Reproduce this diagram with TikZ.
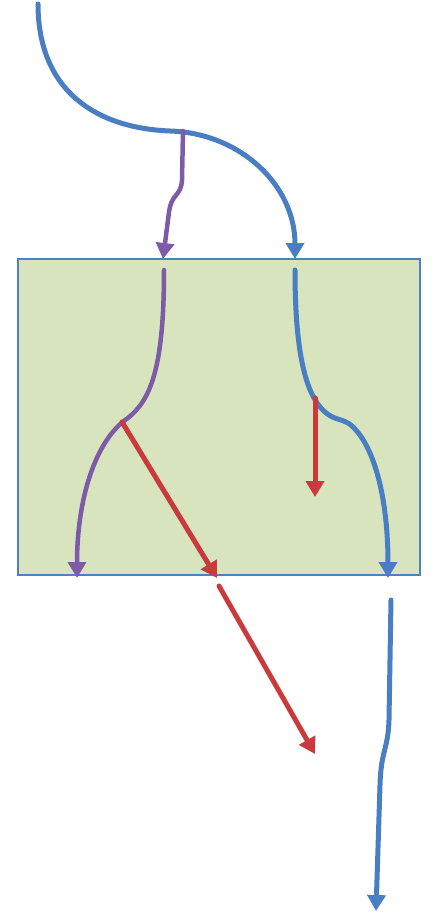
\documentclass[tikz,border=0pt]{standalone}
\usetikzlibrary{arrows.meta}
\definecolor{flowblue}{HTML}{4A7EC2}
\definecolor{flowpurple}{HTML}{7E5BA8}
\definecolor{flowred}{HTML}{C83A3E}
\definecolor{boxfill}{HTML}{D7E4BD}
\definecolor{boxline}{HTML}{4F81BD}
\tikzset{
  tip/.style={-{Triangle[width=18pt,length=16pt]}},
  blueflow/.style={draw=flowblue,line width=5pt,tip,line cap=round},
  purpleflow/.style={draw=flowpurple,line width=4.5pt,tip,line cap=round},
  redflow/.style={draw=flowred,line width=5pt,tip,line cap=round},
  boxstyle/.style={fill=boxfill,draw=boxline,line width=1.2pt}
}
\begin{document}
\begin{tikzpicture}[x=1pt,y=-1pt]
\useasboundingbox (0,0) rectangle (441,914);
% box
\coordinate (boxtl) at (18,259);
\coordinate (boxbr) at (420,575);
\draw[boxstyle] (boxtl) rectangle (boxbr);
% named points
\coordinate (start) at (38,4);
\coordinate (split) at (183,131);
\coordinate (bluein) at (295,259);
\coordinate (purplein) at (163,259);
\coordinate (pstart) at (164,270);
\coordinate (pjoin) at (122,422);
\coordinate (pout) at (77,578);
\coordinate (bstart) at (295,270);
\coordinate (bjoin) at (315,398);
\coordinate (bout) at (388,578);
\coordinate (rshortend) at (315,497);
\coordinate (rlongmid) at (217,578);
\coordinate (rlongstart2) at (219,586);
\coordinate (rlongend) at (315,754);
\coordinate (bbstart) at (391,600);
\coordinate (bbend) at (376,911);
% top blue
\draw[blueflow] (start) .. controls (38,90) and (95,128) .. (170,131)
  .. controls (240,133) and (295,185) .. (bluein);
% top purple
\draw[purpleflow] (split) -- (182,180) .. controls (181,197) and (172,192) .. (169,212) -- (purplein);
% inside purple
\draw[purpleflow] (pstart) .. controls (164,370) and (150,400) .. (128,418)
  .. controls (95,440) and (77,500) .. (pout);
% inside blue
\draw[blueflow] (bstart) .. controls (295,350) and (305,395) .. (325,412)
  .. controls (335,421) and (343,418) .. (352,426)
  .. controls (375,447) and (388,500) .. (bout);
% red arrows
\draw[redflow] (bjoin) -- (rshortend);
\draw[redflow] (pjoin) -- (rlongmid);
\draw[redflow] (rlongstart2) -- (rlongend);
% bottom blue
\draw[blueflow] (bbstart) -- (389,720) .. controls (388,750) and (381,750) .. (380,785) -- (bbend);
\end{tikzpicture}
\end{document}
